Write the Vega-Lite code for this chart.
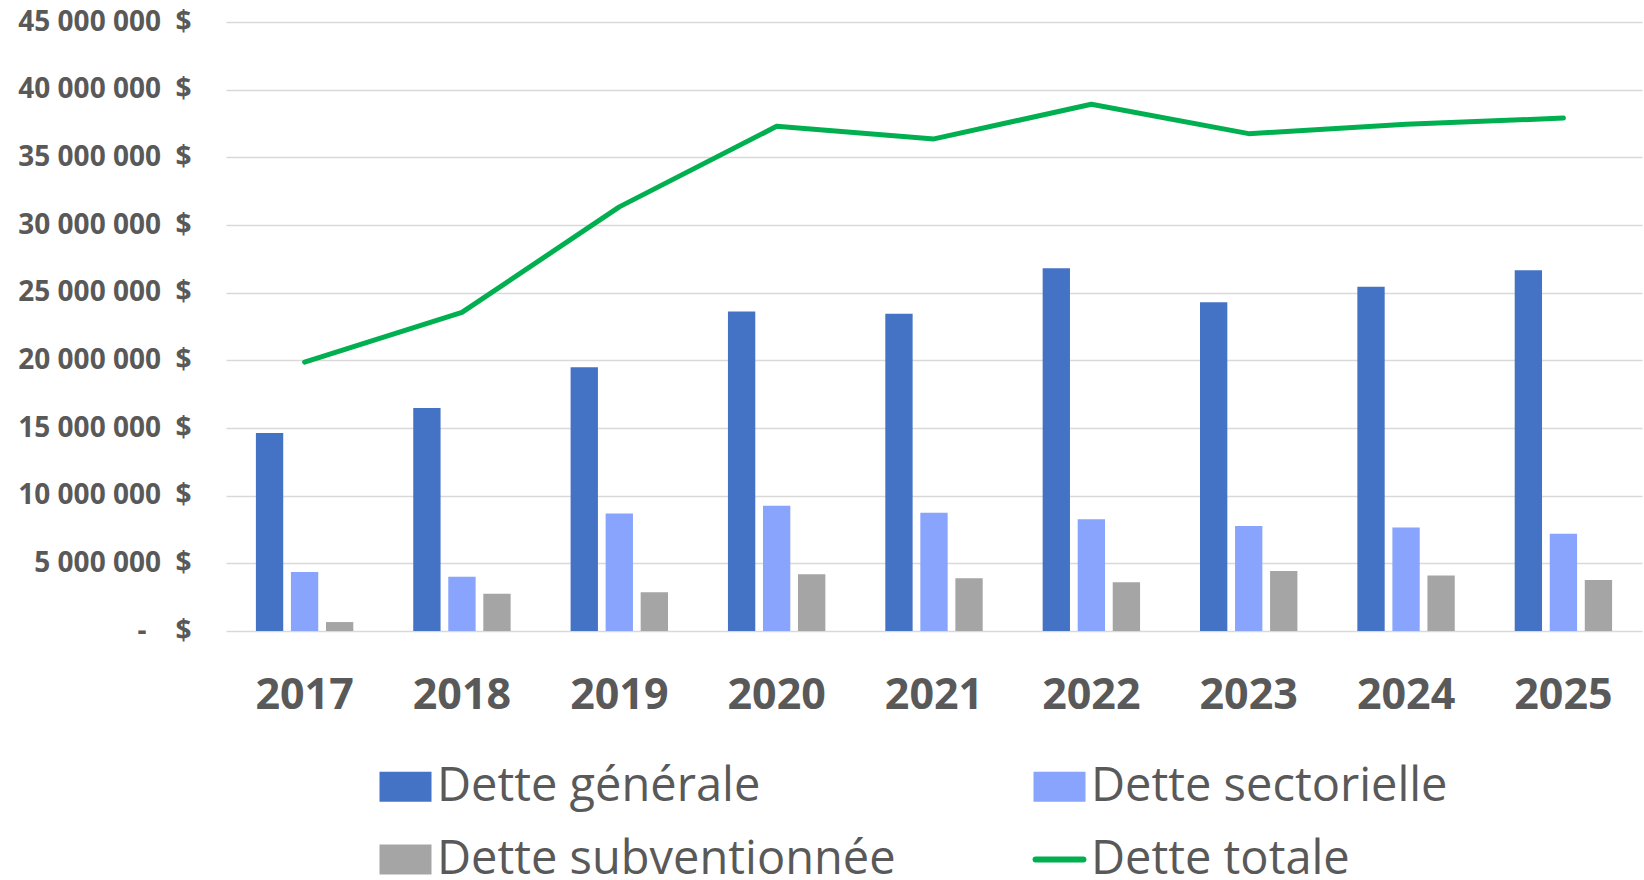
{
  "$schema": "https://vega.github.io/schema/vega-lite/v6.json",
  "width": 1416,
  "height": 609,
  "autosize": {"type": "none"},
  "padding": {"left": 226, "top": 22, "right": 2, "bottom": 249},
  "background": "#ffffff",
  "config": {"view": {"stroke": null}, "font": "Open Sans"},
  "data": {
    "values": [
      {"annee": "2017", "serie": "Dette générale", "valeur": 14630000},
      {"annee": "2017", "serie": "Dette sectorielle", "valeur": 4360000},
      {"annee": "2017", "serie": "Dette subventionnée", "valeur": 660000},
      {"annee": "2017", "serie": "Dette totale", "valeur": 19870000},
      {"annee": "2018", "serie": "Dette générale", "valeur": 16480000},
      {"annee": "2018", "serie": "Dette sectorielle", "valeur": 4010000},
      {"annee": "2018", "serie": "Dette subventionnée", "valeur": 2760000},
      {"annee": "2018", "serie": "Dette totale", "valeur": 23540000},
      {"annee": "2019", "serie": "Dette générale", "valeur": 19480000},
      {"annee": "2019", "serie": "Dette sectorielle", "valeur": 8690000},
      {"annee": "2019", "serie": "Dette subventionnée", "valeur": 2860000},
      {"annee": "2019", "serie": "Dette totale", "valeur": 31340000},
      {"annee": "2020", "serie": "Dette générale", "valeur": 23600000},
      {"annee": "2020", "serie": "Dette sectorielle", "valeur": 9260000},
      {"annee": "2020", "serie": "Dette subventionnée", "valeur": 4190000},
      {"annee": "2020", "serie": "Dette totale", "valeur": 37290000},
      {"annee": "2021", "serie": "Dette générale", "valeur": 23450000},
      {"annee": "2021", "serie": "Dette sectorielle", "valeur": 8740000},
      {"annee": "2021", "serie": "Dette subventionnée", "valeur": 3890000},
      {"annee": "2021", "serie": "Dette totale", "valeur": 36360000},
      {"annee": "2022", "serie": "Dette générale", "valeur": 26800000},
      {"annee": "2022", "serie": "Dette sectorielle", "valeur": 8250000},
      {"annee": "2022", "serie": "Dette subventionnée", "valeur": 3600000},
      {"annee": "2022", "serie": "Dette totale", "valeur": 38920000},
      {"annee": "2023", "serie": "Dette générale", "valeur": 24290000},
      {"annee": "2023", "serie": "Dette sectorielle", "valeur": 7760000},
      {"annee": "2023", "serie": "Dette subventionnée", "valeur": 4430000},
      {"annee": "2023", "serie": "Dette totale", "valeur": 36750000},
      {"annee": "2024", "serie": "Dette générale", "valeur": 25440000},
      {"annee": "2024", "serie": "Dette sectorielle", "valeur": 7640000},
      {"annee": "2024", "serie": "Dette subventionnée", "valeur": 4110000},
      {"annee": "2024", "serie": "Dette totale", "valeur": 37440000},
      {"annee": "2025", "serie": "Dette générale", "valeur": 26650000},
      {"annee": "2025", "serie": "Dette sectorielle", "valeur": 7190000},
      {"annee": "2025", "serie": "Dette subventionnée", "valeur": 3770000},
      {"annee": "2025", "serie": "Dette totale", "valeur": 37900000}
    ]
  },
  "encoding": {
    "x": {
      "field": "annee",
      "type": "ordinal",
      "scale": {"paddingInner": 0.381, "paddingOuter": 0.19},
      "axis": {
        "title": null,
        "labelAngle": 0,
        "ticks": false,
        "tickSize": 0,
        "domain": false,
        "labelPadding": 43,
        "labelFont": "Open Sans",
        "labelFontWeight": "bold",
        "labelFontSize": 43,
        "labelColor": "#595959"
      }
    },
    "y": {
      "field": "valeur",
      "type": "quantitative",
      "scale": {"domain": [0, 45000000], "nice": false, "zero": true},
      "axis": {
        "title": null,
        "values": [0, 5000000, 10000000, 15000000, 20000000, 25000000, 30000000, 35000000, 40000000, 45000000],
        "labelExpr": "datum.value == 0 ? '-\u00a0\u00a0\u00a0\u00a0$' : (datum.value / 1000000) + '\u00a0000\u00a0000\u00a0\u00a0$'",
        "ticks": false,
        "tickSize": 0,
        "domain": false,
        "labelPadding": 35,
        "labelFont": "Open Sans",
        "labelFontWeight": "bold",
        "labelFontSize": 28,
        "labelColor": "#595959",
        "grid": true,
        "gridColor": "#d9d9d9",
        "gridWidth": 1.6
      }
    },
    "color": {
      "field": "serie",
      "type": "nominal",
      "scale": {
        "domain": ["Dette générale", "Dette sectorielle", "Dette subventionnée", "Dette totale"],
        "range": ["#4472c4", "#88a4fc", "#a5a5a5", "#00b050"]
      },
      "legend": {
        "title": null,
        "orient": "none",
        "legendX": 156,
        "legendY": 741,
        "direction": "horizontal",
        "columns": 2,
        "columnPadding": 127,
        "rowPadding": 25,
        "padding": 0,
        "symbolSize": 2704,
        "labelOffset": 8,
        "labelFont": "Open Sans",
        "labelFontSize": 47,
        "labelColor": "#595959",
        "labelLimit": 1000,
        "encode": {
          "symbols": {
            "update": {
              "shape": {"signal": "datum.value === 'Dette totale' ? 'M-0.92,0H0.92' : 'M-1,-0.58H1V0.58H-1Z'"},
              "fill": {"signal": "datum.value === 'Dette totale' ? 'transparent' : scale('color', datum.value)"},
              "stroke": {"signal": "datum.value === 'Dette totale' ? '#00b050' : 'transparent'"},
              "strokeWidth": {"signal": "datum.value === 'Dette totale' ? 6 : 0"},
              "strokeCap": {"value": "round"},
              "size": {"value": 2704},
              "opacity": {"value": 1},
              "fillOpacity": {"value": 1},
              "strokeOpacity": {"value": 1}
            }
          }
        }
      }
    }
  },
  "layer": [
    {
      "transform": [{"filter": "datum.serie !== 'Dette totale'"}],
      "mark": {"type": "bar"},
      "encoding": {
        "xOffset": {
          "field": "serie",
          "type": "nominal",
          "sort": ["Dette générale", "Dette sectorielle", "Dette subventionnée"],
          "scale": {"paddingInner": 0.22, "paddingOuter": 0}
        }
      }
    },
    {
      "transform": [{"filter": "datum.serie === 'Dette totale'"}],
      "mark": {"type": "line", "strokeWidth": 5, "strokeCap": "round", "strokeJoin": "round"},
      "encoding": {}
    }
  ]
}
